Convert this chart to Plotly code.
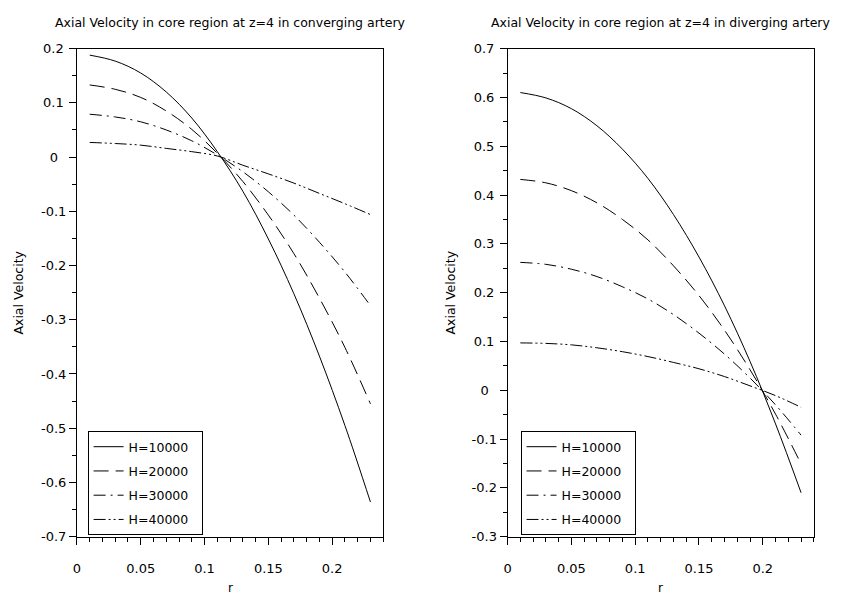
import plotly.graph_objects as go

# ---- data ----
r = [0.01, 0.03, 0.05, 0.07, 0.09, 0.11, 0.13, 0.15, 0.17, 0.19, 0.21, 0.23]
series_names = ["H=10000", "H=20000", "H=30000", "H=40000"]

conv_h10000 = [0.188, 0.177, 0.155, 0.120, 0.072, 0.010, -0.063, -0.151, -0.252, -0.367, -0.495, -0.636]
conv_h20000 = [0.133, 0.125, 0.110, 0.085, 0.051, 0.007, -0.045, -0.107, -0.178, -0.260, -0.351, -0.455]
conv_h30000 = [0.079, 0.074, 0.065, 0.050, 0.030, 0.004, -0.027, -0.064, -0.107, -0.157, -0.212, -0.274]
conv_h40000 = [0.027, 0.025, 0.022, 0.016, 0.010, 0.002, -0.015, -0.031, -0.048, -0.067, -0.086, -0.106]

div_h10000 = [0.610, 0.599, 0.577, 0.542, 0.494, 0.434, 0.360, 0.273, 0.173, 0.059, -0.069, -0.210]
div_h20000 = [0.432, 0.425, 0.409, 0.384, 0.350, 0.308, 0.255, 0.194, 0.123, 0.042, -0.049, -0.151]
div_h30000 = [0.262, 0.258, 0.248, 0.233, 0.212, 0.187, 0.155, 0.117, 0.074, 0.025, -0.030, -0.092]
div_h40000 = [0.097, 0.096, 0.093, 0.087, 0.079, 0.069, 0.057, 0.044, 0.028, 0.009, -0.011, -0.035]

x_tickvals = [0, 0.05, 0.1, 0.15, 0.2]
x_ticktext = ["0", "0.05", "0.1", "0.15", "0.2"]
yl_tickvals = [0.2, 0.1, 0, -0.1, -0.2, -0.3, -0.4, -0.5, -0.6, -0.7]
yl_ticktext = ["0.2", "0.1", "0", "-0.1", "-0.2", "-0.3", "-0.4", "-0.5", "-0.6", "-0.7"]
yr_tickvals = [0.7, 0.6, 0.5, 0.4, 0.3, 0.2, 0.1, 0, -0.1, -0.2, -0.3]
yr_ticktext = ["0.7", "0.6", "0.5", "0.4", "0.3", "0.2", "0.1", "0", "-0.1", "-0.2", "-0.3"]

title_left = "Axial Velocity in core region at z=4 in converging artery"
title_right = "Axial Velocity in core region at z=4 in diverging artery"
y_title = "Axial Velocity"
x_title = "r"

# ---- style ----
FONT = "DejaVu Sans"
dashes = ["solid", "15px,7px", "12px,5px,2px,5px", "12px,3px,2px,3px,2px,3px"]


def centred(labels):
    # the reference centres its y tick labels; pad shorter labels on the right
    out = []
    for t in labels:
        if t == "0":
            out.append(t + "\u2007")
        elif not t.startswith("-"):
            out.append(t + "\u2009")
        else:
            out.append(t)
    return out


fig = go.Figure()
conv = [conv_h10000, conv_h20000, conv_h30000, conv_h40000]
div = [div_h10000, div_h20000, div_h30000, div_h40000]
for i, (name, ys) in enumerate(zip(series_names, conv)):
    fig.add_trace(go.Scatter(x=r, y=ys, mode="lines", name=name + "\u2007", xaxis="x", yaxis="y",
                             line=dict(color="black", width=1, dash=dashes[i], shape="spline"),
                             legend="legend", legendgroup="a%d" % i))
for i, (name, ys) in enumerate(zip(series_names, div)):
    fig.add_trace(go.Scatter(x=r, y=ys, mode="lines", name=name + "\u2007", xaxis="x2", yaxis="y2",
                             line=dict(color="black", width=1, dash=dashes[i], shape="spline"),
                             legend="legend2", legendgroup="b%d" % i))

W, H = 843, 597
L1, R1 = 73.3 / W, 381 / W
L2, R2 = 506 / W, 813.7 / W
TOP, BOT = 1 - 42.7 / H, 1 - 543.3 / H


def xax(dom, anchor):
    return dict(domain=dom, anchor=anchor, range=[0, 0.24], showgrid=False, zeroline=False,
                showline=True, linecolor="black", linewidth=1, mirror=True,
                ticks="outside", ticklen=7, tickwidth=1, tickcolor="black",
                ticklabelstandoff=13,
                tickmode="array", tickvals=x_tickvals, ticktext=x_ticktext,
                minor=dict(tickmode="linear", tick0=0, dtick=0.01, ticks="outside", ticklen=4,
                           tickcolor="black", tickwidth=1, showgrid=False),
                tickfont=dict(family=FONT, size=13, color="black"))


def yax(dom, anchor, rng, tv, tt):
    return dict(domain=dom, anchor=anchor, range=rng, showgrid=False, zeroline=False,
                showline=True, linecolor="black", linewidth=1, mirror=True,
                ticks="outside", ticklen=7, tickwidth=1, tickcolor="black",
                tickmode="array", tickvals=tv, ticktext=centred(tt),
                minor=dict(tickmode="linear", tick0=0, dtick=0.05, ticks="outside", ticklen=4,
                           tickcolor="black", tickwidth=1, showgrid=False),
                tickfont=dict(family=FONT, size=13, color="black"))


leg = dict(xanchor="left", yanchor="top", bgcolor="white", bordercolor="black", borderwidth=1,
           font=dict(family=FONT, size=12.5, color="black"), tracegroupgap=5)

fig.update_layout(
    width=W, height=H, margin=dict(l=0, r=0, t=0, b=0),
    paper_bgcolor="white", plot_bgcolor="white",
    xaxis=xax([L1, R1], "y"), yaxis=yax([BOT, TOP], "x", [-0.7, 0.2], yl_tickvals, yl_ticktext),
    xaxis2=xax([L2, R2], "y2"), yaxis2=yax([BOT, TOP], "x2", [-0.3, 0.7], yr_tickvals, yr_ticktext),
    legend=dict(leg, x=84 / W, y=1 - 435 / H),
    legend2=dict(leg, x=519 / W, y=1 - 435 / H),
    font=dict(family=FONT, size=12, color="black"),
    annotations=[
        dict(text=title_left, x=(L1 + R1) / 2, y=1 - 16 / H, xref="paper", yref="paper",
             showarrow=False, xanchor="center", yanchor="middle", font=dict(family=FONT, size=12.5)),
        dict(text=title_right, x=(L2 + R2) / 2, y=1 - 16 / H, xref="paper", yref="paper",
             showarrow=False, xanchor="center", yanchor="middle", font=dict(family=FONT, size=12.5)),
        dict(text=y_title, x=15 / W, y=(TOP + BOT) / 2, xref="paper", yref="paper", textangle=-90,
             showarrow=False, xanchor="center", yanchor="middle", font=dict(family=FONT, size=12.5)),
        dict(text=y_title, x=449 / W, y=(TOP + BOT) / 2, xref="paper", yref="paper", textangle=-90,
             showarrow=False, xanchor="center", yanchor="middle", font=dict(family=FONT, size=12.5)),
        dict(text=x_title, x=(L1 + R1) / 2, y=1 - 596 / H, xref="paper", yref="paper",
             showarrow=False, xanchor="center", yanchor="middle", font=dict(family=FONT, size=12)),
        dict(text=x_title, x=(L2 + R2) / 2, y=1 - 596 / H, xref="paper", yref="paper",
             showarrow=False, xanchor="center", yanchor="middle", font=dict(family=FONT, size=12)),
    ],
)

fig.write_html("out.html")
